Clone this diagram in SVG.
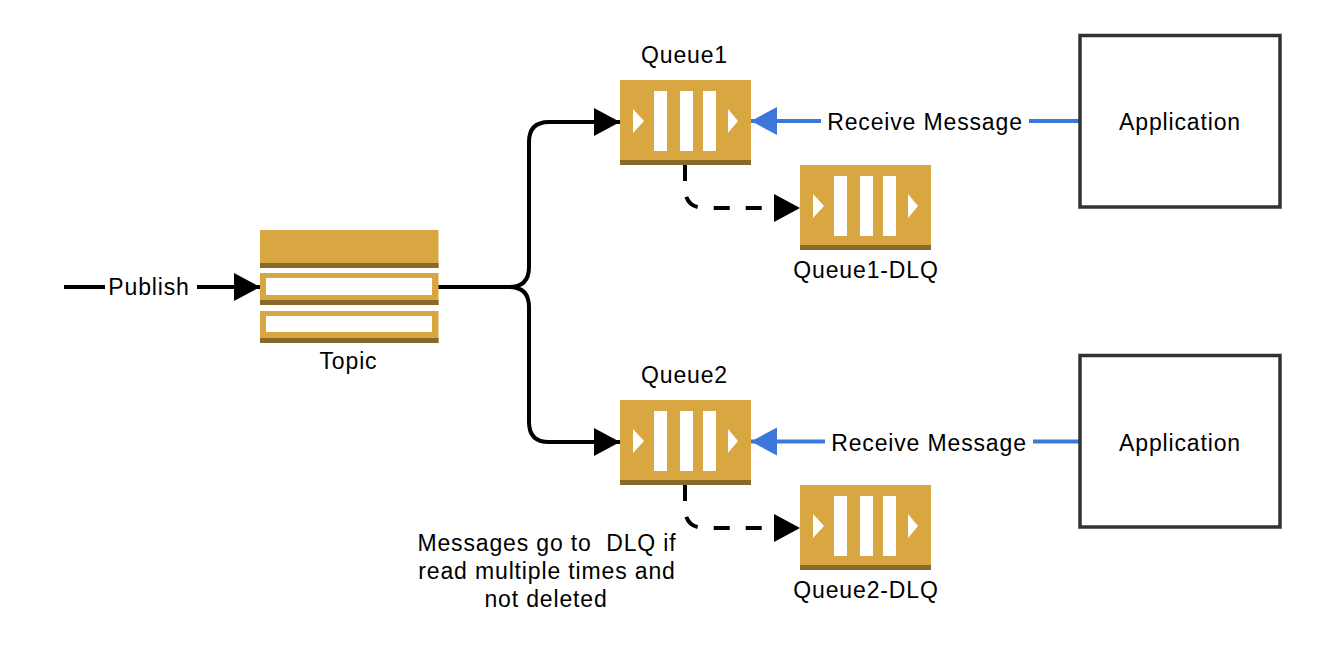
<svg xmlns="http://www.w3.org/2000/svg" width="1332" height="651" viewBox="0 0 1332 651">
<style>
text{font-family:"Liberation Sans",Arial,sans-serif;font-size:23px;letter-spacing:.85px;fill:#000;text-anchor:middle;white-space:pre}
.body{fill:#d9a741}.band{fill:#876929}.w{fill:#fff}
.line{fill:none;stroke:#000;stroke-width:4}
.dash{fill:none;stroke:#000;stroke-width:4;stroke-dasharray:16 16}
.blue{fill:none;stroke:#3d78d8;stroke-width:4}
.app{fill:#fff;stroke:#333;stroke-width:3.500}
</style>
<defs>
<g id="q">
<rect class="body" width="131" height="85"/>
<rect class="band" y="80" width="131" height="5"/>
<rect class="w" x="34" y="11" width="13" height="60"/>
<rect class="w" x="60" y="11" width="13" height="60"/>
<rect class="w" x="83" y="11" width="13" height="60"/>
<path class="w" d="M13 29L24 41L13 53Z"/>
<path class="w" d="M108 29L118 41L108 53Z"/>
</g>
<marker id="ab" markerUnits="userSpaceOnUse" markerWidth="28" markerHeight="30" refX="26" refY="14" orient="auto"><path d="M0 0L26 14L0 28Z" fill="#000"/></marker>
<marker id="ac" markerUnits="userSpaceOnUse" markerWidth="28" markerHeight="30" refX="26" refY="14" orient="auto"><path d="M0 0L26 14L0 28Z" fill="#3d78d8"/></marker>
</defs>
<g id="connectors">
<path class="line" d="M64 287H105"/>
<path class="line" marker-end="url(#ab)" d="M197 287H260"/>
<path class="line" marker-end="url(#ab)" d="M438 287H509Q529 287 529 267V142Q529 122 549 122H620"/>
<path class="line" marker-end="url(#ab)" d="M438 287H509Q529 287 529 307V422Q529 442 549 442H620"/>
<path class="dash" marker-end="url(#ab)" d="M685 165V188Q685 208 705 208H800"/>
<path class="dash" marker-end="url(#ab)" d="M685 485V508Q685 528 705 528H800"/>
<path class="blue" marker-end="url(#ac)" d="M821 121H751"/>
<path class="blue" d="M1080 121H1029"/>
<path class="blue" marker-end="url(#ac)" d="M825 441.500H751"/>
<path class="blue" d="M1080 441.500H1033"/>
</g>
<g id="topic">
<rect class="body" x="260" y="230" width="178.500" height="38"/><rect class="band" x="260" y="263" width="178.500" height="5"/>
<rect class="body" x="260" y="273" width="178.500" height="32"/><rect class="band" x="260" y="300" width="178.500" height="5"/><rect class="w" x="266" y="278" width="166" height="17"/>
<rect class="body" x="260" y="311" width="178.500" height="32"/><rect class="band" x="260" y="338" width="178.500" height="5"/><rect class="w" x="266" y="316" width="166" height="16"/>
<text x="348.500" y="369">Topic</text>
</g>
<g id="queue1"><use href="#q" x="620" y="80"/><text x="684.500" y="63">Queue1</text></g>
<g id="queue1-dlq"><use href="#q" x="800" y="165"/><text x="866" y="278">Queue1-DLQ</text></g>
<g id="queue2"><use href="#q" x="620" y="400"/><text x="684.500" y="383">Queue2</text></g>
<g id="queue2-dlq"><use href="#q" x="800" y="485"/><text x="866" y="598">Queue2-DLQ</text></g>
<g id="app1"><rect class="app" x="1080" y="35.500" width="200" height="171.500"/><text x="1180" y="130">Application</text></g>
<g id="app2"><rect class="app" x="1080" y="355.500" width="200" height="171.500"/><text x="1180" y="451">Application</text></g>
<g id="labels">
<text x="149" y="295">Publish</text>
<text x="925" y="130">Receive Message</text>
<text x="929" y="451">Receive Message</text>
<text x="547" y="551" xml:space="preserve">Messages go to  DLQ if</text>
<text x="547" y="579">read multiple times and</text>
<text x="546" y="607">not deleted</text>
</g>
</svg>
